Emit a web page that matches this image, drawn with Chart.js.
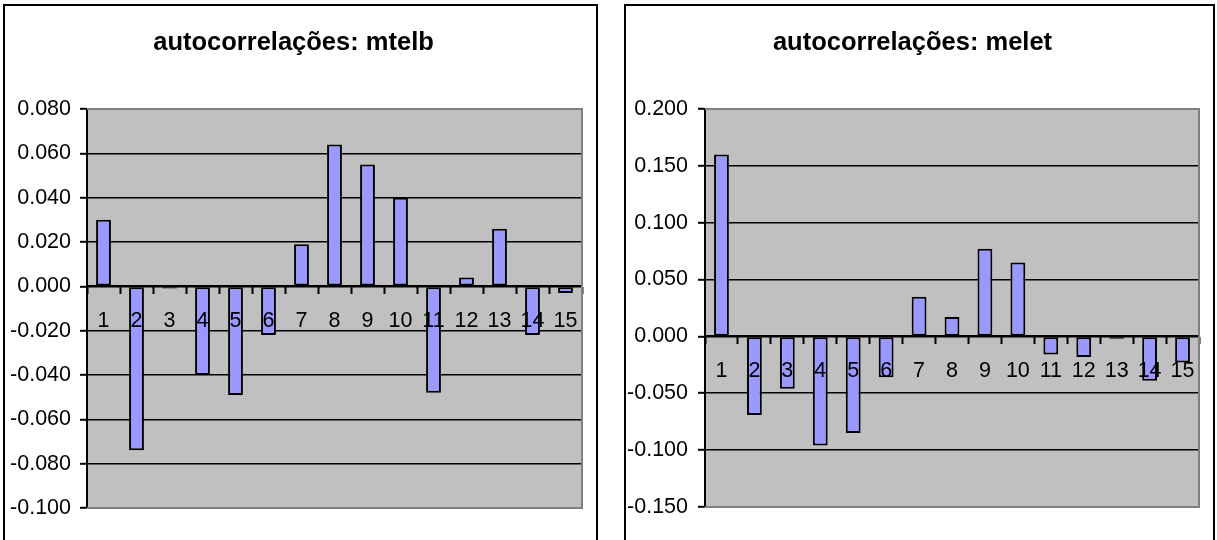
<!DOCTYPE html>
<html>
<head>
<meta charset="utf-8">
<script src="https://cdn.jsdelivr.net/npm/chart.js@4.4.1/dist/chart.umd.min.js"></script>
<style>
  html, body { margin: 0; padding: 0; background: #fff; overflow: hidden; }
  body { width: 1217px; height: 540px; position: relative; }
  .frame { position: absolute; top: 4px; height: 560px; border: 2px solid #000; background: #fff; }
  .frame canvas { position: absolute; left: 0; top: 0; }
</style>
</head>
<body>
<div class="frame" style="left:3px;width:591px;"><canvas id="mtelb" width="591" height="534"></canvas></div>
<div class="frame" style="left:624px;width:587px;"><canvas id="melet" width="587" height="534"></canvas></div>
<script>
// lags 1..15
const lags = ['1','2','3','4','5','6','7','8','9','10','11','12','13','14','15'];

// autocorrelation coefficients per lag
const acfMtelb = [0.030, -0.074, -0.001, -0.040, -0.049, -0.022, 0.019, 0.064, 0.055, 0.040, -0.048, 0.004, 0.026, -0.022, -0.003];
const acfMelet = [0.160, -0.069, -0.046, -0.096, -0.085, -0.036, 0.035, 0.017, 0.077, 0.065, -0.016, -0.018, -0.002, -0.039, -0.023];

// value axis ranges
const yMtelb = { min: -0.100, max: 0.080, step: 0.020 };
const yMelet = { min: -0.150, max: 0.200, step: 0.050 };

const FONT = "'Liberation Sans', Arial, sans-serif";

// grey plot area with a darker grey frame on top, right and bottom
const plotArea = {
  id: 'plotArea',
  beforeDraw(chart) {
    const { ctx, chartArea: a } = chart;
    ctx.save();
    ctx.fillStyle = '#C0C0C0';
    ctx.fillRect(a.left, a.top, a.right - a.left, a.bottom - a.top);
    ctx.restore();
  },
  afterDraw(chart) {
    const { ctx, chartArea: a } = chart;
    ctx.save();
    ctx.strokeStyle = '#808080';
    ctx.lineWidth = 2;
    ctx.beginPath();
    ctx.moveTo(a.left, a.top);
    ctx.lineTo(a.right, a.top);
    ctx.lineTo(a.right, a.bottom);
    ctx.lineTo(a.left, a.bottom);
    ctx.stroke();
    ctx.restore();
  }
};

function acfChart(id, title, values, range, axisWidth, labelPad, bottomPad) {
  return new Chart(document.getElementById(id), {
    type: 'bar',
    data: {
      labels: lags,
      datasets: [{
        data: values,
        backgroundColor: '#9999FF',
        borderColor: '#000',
        borderWidth: 2,
        borderSkipped: false,
        barPercentage: 0.45,
        categoryPercentage: 1
      }]
    },
    options: {
      responsive: false,
      devicePixelRatio: 1,
      animation: false,
      events: [],
      layout: { padding: { left: 0, right: 14, top: 0, bottom: bottomPad } },
      plugins: {
        legend: { display: false },
        tooltip: { enabled: false },
        title: {
          display: true,
          text: title,
          color: '#000',
          font: { family: FONT, size: 25.5, weight: 'bold', lineHeight: 1.2 },
          padding: { top: 22, bottom: 50.4 }
        }
      },
      scales: {
        x: {
          position: { y: 0 },
          offset: true,
          grid: { display: true, drawOnChartArea: false, drawTicks: true, tickLength: 7, tickColor: '#000', tickWidth: 2, offset: true },
          border: { display: true, color: '#000', width: 2, z: 1 },
          ticks: { z: 1, color: '#000', padding: 15, maxRotation: 0, autoSkip: false, font: { family: FONT, size: 21.5 } }
        },
        y: {
          min: range.min,
          max: range.max,
          afterFit(scale) { scale.width = axisWidth; },
          grid: {
            color(ctx) {
              const v = ctx.tick ? ctx.tick.value : 0;
              if (Math.abs(v - range.min) < 1e-9 || Math.abs(v - range.max) < 1e-9) return 'rgba(0,0,0,0)';
              return '#000';
            },
            lineWidth: 1.6,
            tickLength: 7,
            tickColor: '#000',
            tickWidth: 2
          },
          border: { display: true, color: '#000', width: 2 },
          ticks: {
            stepSize: range.step,
            color: '#000',
            padding: labelPad,
            font: { family: FONT, size: 21.5 },
            callback: (v) => Number(v).toFixed(3)
          }
        }
      }
    },
    plugins: [plotArea]
  });
}

acfChart('mtelb', 'autocorrelações: mtelb', acfMtelb, yMtelb, 82, 9, 32);
acfChart('melet', 'autocorrelações: melet', acfMelet, yMelet, 79, 10, 33);
</script>
</body>
</html>
